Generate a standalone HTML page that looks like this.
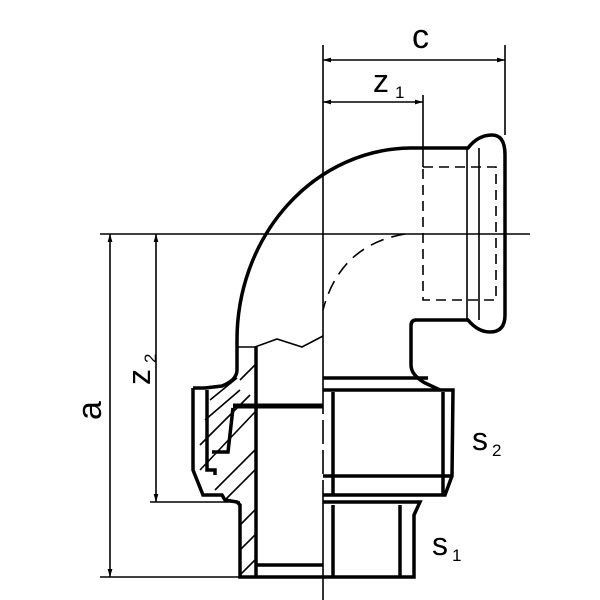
<!DOCTYPE html>
<html><head><style>body{margin:0;background:#fff}svg{display:block}</style></head><body>
<svg width="600" height="600" viewBox="0 0 600 600" xmlns="http://www.w3.org/2000/svg">
<defs>
<marker id="ar" viewBox="0 0 10 10" refX="10" refY="5" markerWidth="8" markerHeight="8" orient="auto-start-reverse" markerUnits="userSpaceOnUse"><path d="M0,2 L10,5 L0,8 z" fill="#000"/></marker>
</defs>
<g stroke="#000" fill="none">
<g stroke-width="1.6">
<line x1="323" y1="45" x2="323" y2="390"/>
<line x1="323" y1="390" x2="323" y2="502" stroke-dasharray="24,6"/>
<line x1="323" y1="502" x2="323" y2="600"/>
<line x1="100" y1="234" x2="530" y2="234"/>
<line x1="505" y1="45" x2="505" y2="135"/>
<line x1="423" y1="95" x2="423" y2="167"/>
<line x1="100" y1="577" x2="240" y2="577"/>
<line x1="150" y1="502" x2="240" y2="502"/>
<line x1="323" y1="60" x2="505" y2="60" marker-start="url(#ar)" marker-end="url(#ar)"/>
<line x1="323" y1="102" x2="423" y2="102" marker-start="url(#ar)" marker-end="url(#ar)"/>
<line x1="110" y1="234" x2="110" y2="577" marker-start="url(#ar)" marker-end="url(#ar)"/>
<line x1="156" y1="234" x2="156" y2="502" marker-start="url(#ar)" marker-end="url(#ar)"/>
<path d="M467,148 V320 M479,148 V320"/>
<path d="M423,167 H496 V300 H423 Z" stroke-dasharray="10,6"/>
<path d="M405,234 Q340,245 323,310" stroke-dasharray="14,8"/>
<path d="M237,347 L255,347 L277,339 L302,347 L323,336"/>
<path d="M210,400 L237,378 M205,420 L240,390 M200,445 L250,395 M200,470 L255,412 M215,490 L255,450 M225,500 L255,470 M240,525 L255,510 M240,550 L255,535 M240,575 L255,560 M240,380 L255,365"/>
</g>
<g stroke-width="3.5">
<path d="M237,370 V340 A175,192 0 0 1 410,148 H468 Q478,135 492,135 Q505,135 505,155 V315 Q505,332 490,332 Q478,332 468,320 H416 Q411,320 411,326 V365 Q411,375 425,383 L440,390"/>
<path d="M237,370 Q237,380 222,386 L205,388 H193"/>
<path d="M256,347 V577"/>
<path d="M193,388 V470 L203,495 H222 L225,500 L237,502 L240,505 V577 H323"/>
<path d="M207,390 V470 H215 V475 M212,452 H228 L233,408"/>
<path d="M323,390 H453 L452,476 L445,495 H323 M333,392 V495 M443,392 V495 M323,476 H452"/>
<path d="M323,378 H428"/>
<path d="M323,502 H420 L414,515 V577 H323 M333,505 V577 M400,505 V577"/>
<path d="M256,565 H323"/>
</g>
<path d="M233,406 H323" stroke-width="5"/>
</g>
<g font-family="Liberation Sans, sans-serif" fill="#000">
<text x="412" y="48" font-size="34">c</text>
<text x="373" y="92" font-size="32">z</text><text x="395" y="98" font-size="17">1</text>
<text x="472" y="450" font-size="32">s</text><text x="492" y="456" font-size="17">2</text>
<text x="432" y="555" font-size="32">s</text><text x="452" y="561" font-size="17">1</text>
<text transform="translate(101,420) rotate(-90)" font-size="34">a</text>
<text transform="translate(150,385) rotate(-90)" font-size="32">z</text>
<text transform="translate(156,363) rotate(-90)" font-size="17">2</text>
</g>
</svg>
</body></html>
